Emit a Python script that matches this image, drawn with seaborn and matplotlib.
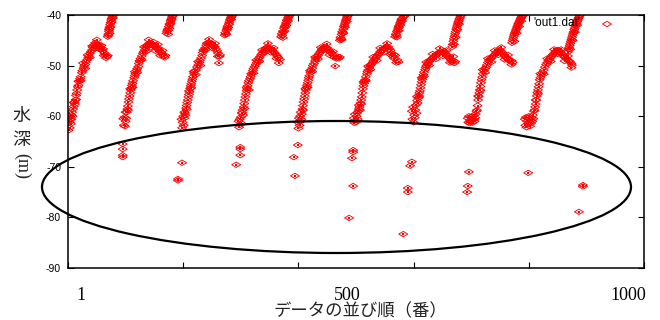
import numpy as np
import pandas as pd
import matplotlib
matplotlib.use("Agg")
import matplotlib.pyplot as plt
import seaborn as sns
from matplotlib.path import Path
from matplotlib.patches import Ellipse

# ---------------- data ----------------
x1 = [1,1,2,3,3,4,5,6,7,8,9,10,11,12,13,14,15,16,17,18,20,21,22,24,25,27,28,30,31,33,35,36,38,40,42,43,45,47,49,51,52,54,56,58,60,61,63,65,66,68,69]
y1 = [-61.0,-62.8,-60.2,-62.3,-61.2,-60.6,-61.5,-59.8,-59.2,-60.0,-58.6,-58.1,-57.2,-57.6,-56.8,-55.9,-55.5,-54.8,-54.2,-53.9,-53.0,-52.6,-52.2,-51.4,-51.0,-50.5,-50.1,-49.8,-49.3,-48.9,-48.5,-48.1,-47.6,-47.2,-46.9,-46.4,-46.0,-45.5,-45.6,-45.9,-46.3,-45.9,-46.4,-46.8,-47.1,-46.7,-47.5,-47.9,-48.5,-48.2,-48.0]
x1c = [69,70,70,71,71,72,72,73,74,75,76,77,78]
y1c = [-44.3,-43.8,-44.0,-43.2,-42.8,-42.4,-42.9,-41.9,-41.5,-41.0,-40.7,-40.4,-40.1]
x1e = [2,6,10,14,18,22,26,30,34,38,42,46,50,54,58,62]
y1e = [-59.4,-60.6,-57.3,-56.7,-53.1,-53.0,-49.5,-50.6,-47.9,-48.4,-46.1,-46.6,-44.9,-46.7,-46.0,-48.0]

x2 = [96,97,98,99,100,101,102,103,104,105,106,107,108,109,110,111,112,113,115,116,117,119,120,122,123,125,126,128,130,131,133,135,136,138,140,142,144,146,148,150,152,154,156,158,160,162,164,166,168,169]
y2 = [-60.5,-61.8,-60.2,-62.0,-61.0,-60.4,-59.2,-58.6,-58.0,-57.2,-56.6,-56.0,-55.4,-54.8,-54.4,-53.9,-53.5,-53.0,-52.4,-52.0,-51.6,-51.0,-50.6,-50.2,-49.6,-49.0,-48.6,-48.1,-47.6,-47.3,-46.9,-46.5,-46.2,-46.0,-45.7,-45.5,-45.6,-45.8,-46.1,-46.0,-46.3,-46.6,-46.5,-46.9,-47.2,-47.4,-47.8,-48.1,-48.4,-48.0]
x2c = [171,172,173,174,175,176,177,178,179,180,181,182]
y2c = [-43.6,-43.2,-42.8,-43.0,-42.3,-41.8,-41.9,-41.2,-40.9,-40.6,-40.3,-40.1]
x2e = [100,104,108,112,116,120,124,128,132,136,140,144,148,152,156,160,164]
y2e = [-59.2,-58.8,-54.6,-54.3,-51.2,-51.4,-49.1,-48.9,-46.3,-47.2,-44.9,-46.4,-45.3,-47.1,-45.8,-48.0,-47.0]

x3 = [197,198,199,200,201,202,203,204,205,206,207,208,209,210,211,212,213,214,215,216,217,219,220,222,224,226,228,229,231,233,234,236,238,240,241,243,245,247,249,251,253,255,257,259,260,262,263,264]
y3 = [-60.6,-62.3,-61.2,-60.0,-61.8,-60.4,-59.4,-59.8,-58.4,-57.9,-57.3,-56.8,-56.2,-55.7,-55.2,-54.5,-54.0,-53.6,-53.1,-52.7,-52.2,-51.6,-51.1,-50.9,-50.3,-49.9,-49.4,-49.0,-48.5,-48.0,-47.4,-47.0,-46.5,-46.0,-45.6,-45.5,-45.4,-45.6,-45.8,-46.0,-46.2,-46.3,-46.7,-47.1,-47.5,-49.5,-48.2,-47.9]
x3c = [272,273,274,275,276,277,278,279,280,281,282,283,284,285]
y3c = [-44.0,-43.5,-43.8,-43.0,-42.6,-42.2,-42.5,-41.8,-41.4,-41.0,-40.8,-40.5,-40.3,-40.1]
x3e = [202,206,210,214,218,222,226,230,235,240,245,250,255,260]
y3e = [-59.2,-58.7,-55.0,-54.4,-51.2,-51.8,-49.2,-50.0,-46.9,-46.8,-44.8,-46.5,-45.6,-48.2]

x4 = [296,297,298,299,300,301,302,303,304,305,306,307,308,309,310,311,312,313,314,316,317,319,321,322,324,326,328,330,331,333,335,337,339,341,343,345,347,349,351,353,355,357,359,361,363,365,366,368]
y4 = [-61.0,-62.2,-60.6,-61.7,-60.2,-61.4,-59.3,-58.8,-59.8,-58.2,-57.5,-56.8,-56.2,-55.6,-55.0,-54.6,-54.0,-53.4,-53.0,-52.6,-52.2,-51.6,-51.0,-50.6,-50.2,-49.8,-49.4,-49.0,-48.6,-48.3,-47.9,-47.6,-47.3,-47.0,-46.7,-46.4,-46.3,-46.6,-46.8,-46.7,-47.0,-47.3,-47.5,-47.8,-48.1,-48.4,-49.5,-48.8]
x4c = [370,371,372,373,374,375,376,377,378,379,380,381,382,383,384,385]
y4c = [-44.3,-43.7,-44.0,-43.2,-43.4,-42.6,-42.2,-42.4,-41.8,-41.5,-41.1,-40.9,-40.6,-40.4,-40.2,-40.0]
x4e = [302,306,310,314,318,322,327,332,337,342,347,352,357,362]
y4e = [-59.4,-58.5,-54.3,-54.8,-51.6,-51.5,-48.9,-49.2,-46.9,-47.4,-45.6,-47.4,-46.5,-48.6]

x5 = [399,400,401,402,403,404,405,406,407,408,409,410,411,412,413,414,415,416,417,418,419,421,422,424,425,427,429,430,432,434,436,438,440,441,443,445,447,449,450,452,454,456,458,460,462,464,466,468,470,472]
y5 = [-61.2,-62.4,-60.4,-61.8,-60.0,-61.0,-60.6,-59.6,-58.6,-57.9,-57.2,-56.6,-56.0,-55.4,-54.8,-54.3,-53.9,-53.4,-52.9,-52.4,-52.0,-51.4,-50.9,-50.5,-50.0,-49.6,-49.1,-48.7,-48.3,-48.0,-47.6,-47.3,-47.0,-46.8,-46.5,-46.3,-46.4,-46.6,-46.5,-46.9,-47.2,-47.4,-47.5,-47.9,-48.4,-50.1,-48.6,-48.2,-48.6,-48.3]
x5c = [472,473,474,475,476,477,478,479,480,481,482,483,484,485,486]
y5c = [-45.0,-44.4,-44.7,-43.8,-43.3,-43.5,-42.8,-42.3,-42.0,-41.6,-41.2,-40.9,-40.6,-40.3,-40.1]
x5e = [404,408,412,416,420,424,429,434,439,444,449,454,460]
y5e = [-59.2,-58.8,-54.6,-54.3,-51.0,-51.2,-48.3,-48.7,-46.4,-46.9,-45.7,-47.9,-47.2]

x6 = [496,497,498,499,500,501,502,503,504,505,506,507,508,509,510,511,512,513,514,515,516,517,519,520,521,523,525,527,529,530,532,534,536,538,540,542,544,546,548,550,552,554,556,558,560,562,564,566,568,570,572,574]
y6 = [-60.4,-61.3,-59.6,-60.8,-61.2,-60.0,-59.4,-60.6,-59.0,-58.6,-58.2,-58.8,-57.4,-56.8,-56.2,-55.4,-54.6,-54.0,-53.5,-53.1,-52.8,-52.2,-51.6,-51.2,-50.9,-50.4,-50.0,-49.7,-49.4,-49.1,-48.8,-48.5,-48.2,-47.9,-47.6,-47.3,-47.1,-46.9,-46.6,-46.5,-46.3,-46.4,-46.3,-46.7,-47.0,-47.6,-48.2,-48.6,-48.0,-49.4,-48.9,-49.3]
x6c = [568,569,570,571,572,573,574,575,576,577,578,579,580,582,584,586]
y6c = [-44.3,-43.8,-44.0,-43.3,-43.0,-42.6,-42.2,-42.4,-41.8,-41.5,-41.2,-40.9,-40.7,-40.4,-40.2,-40.0]
x6e = [505,509,513,517,521,525,530,536,542,548,554,560,566]
y6e = [-57.8,-57.6,-53.2,-53.0,-50.1,-50.8,-48.3,-49.0,-46.5,-47.4,-45.6,-47.8,-47.8]

x7 = [597,598,599,600,601,602,603,604,605,606,607,608,609,610,611,612,613,614,615,616,617,618,620,621,622,624,625,627,629,631,633,635,637,639,641,643,645,647,649,651,653,655,657,659,661,663,665,667,669,671,672]
y7 = [-59.0,-60.6,-58.2,-61.2,-59.8,-60.3,-58.8,-57.8,-59.4,-56.9,-57.4,-56.4,-55.9,-55.4,-55.0,-54.4,-53.8,-53.2,-52.7,-52.3,-51.8,-51.3,-50.8,-50.4,-50.1,-49.8,-49.5,-49.2,-48.9,-48.7,-48.5,-48.3,-48.1,-47.9,-47.7,-47.5,-47.4,-47.2,-47.4,-47.3,-47.1,-47.5,-47.8,-48.1,-48.4,-48.6,-48.9,-49.3,-49.0,-49.5,-49.2]
x7c = [667,668,669,670,671,672,673,674,675,676,677,678,679,680,681,682]
y7c = [-46.3,-45.8,-45.2,-44.7,-44.2,-43.7,-43.3,-42.8,-42.4,-42.0,-41.6,-41.3,-41.0,-40.7,-40.4,-40.1]
x7e = [606,610,614,618,622,627,633,639,645,651,657,663,669]
y7e = [-56.1,-56.2,-52.4,-52.1,-49.3,-50.0,-47.7,-48.7,-46.6,-48.1,-47.0,-49.4,-48.2]

x8 = [694,695,696,697,698,699,700,701,702,703,704,705,706,707,708,709,710,711,712,713,714,715,716,717,718,719,720,722,724,726,727,729,731,733,735,737,739,741,743,745,747,749,750,752,754,756,758,760,762,764,766,768,770,772]
y8 = [-60.4,-61.2,-60.0,-61.4,-60.8,-61.0,-60.2,-60.9,-61.3,-60.5,-59.8,-60.6,-61.0,-60.3,-59.6,-59.0,-58.8,-57.9,-56.8,-56.1,-55.4,-54.8,-54.1,-53.4,-52.8,-52.3,-51.6,-51.0,-50.6,-50.3,-49.9,-49.4,-49.0,-48.7,-48.5,-48.2,-48.0,-47.8,-47.5,-47.3,-47.1,-47.0,-46.9,-47.2,-47.4,-47.8,-48.0,-48.3,-48.5,-48.7,-48.9,-49.2,-49.0,-49.4]
x8c = [771,772,773,774,775,776,777,778,779,780,781,782,783,784,785,786,787,788,789,790]
y8c = [-45.5,-45.0,-44.6,-44.2,-43.8,-43.5,-43.2,-42.9,-42.6,-42.3,-42.0,-41.7,-41.5,-41.2,-41.0,-40.7,-40.5,-40.3,-40.1,-40.0]
x8e = [712,716,720,724,729,735,741,747,752,758,764,770]
y8e = [-56.0,-54.9,-50.8,-51.4,-48.6,-49.3,-47.0,-47.9,-46.4,-48.8,-47.9,-49.8]

x9 = [793,794,795,796,797,798,799,800,801,802,803,804,805,806,807,808,809,810,811,812,813,814,815,816,817,818,819,820,822,824,826,828,830,832,834,836,838,840,842,844,846,848,850,852,854,856,858,860,862,864,866,868,870,872,874,875]
y9 = [-60.6,-61.8,-60.2,-62.2,-61.0,-60.4,-61.5,-60.0,-61.2,-62.0,-60.8,-61.4,-60.3,-61.0,-59.8,-60.5,-59.0,-58.8,-58.2,-57.6,-56.8,-56.0,-55.3,-54.8,-54.2,-53.6,-52.8,-52.4,-51.8,-51.4,-50.9,-50.3,-49.8,-49.4,-49.0,-48.7,-48.4,-48.1,-47.8,-47.6,-47.3,-47.1,-46.9,-47.0,-47.3,-47.6,-47.9,-48.0,-48.3,-48.5,-48.7,-48.9,-49.1,-49.3,-49.6,-49.9]
x9c = [868,869,870,871,872,873,874,875,876,877,878,879,880,881,882,883,884,885,886,887,888,889]
y9c = [-47.3,-46.8,-46.4,-46.0,-45.6,-45.2,-44.8,-44.4,-44.0,-43.6,-43.3,-42.9,-42.6,-42.2,-41.9,-41.6,-41.3,-41.0,-40.7,-40.5,-40.2,-40.0]
x9e = [812,816,820,826,832,838,844,850,856,862,868,874]
y9e = [-56.8,-55.6,-51.6,-51.7,-48.6,-49.2,-46.8,-47.7,-46.8,-49.1,-48.1,-50.4]

# second row of points along the near-vertical columns
xce = [72,74,76,78,174,176,178,180,275,277,280,283,373,376,379,382,475,478,481,484,571,574,577,580,670,673,676,679,775,779,783,787,872,876,880,884]
yce = [-43.6,-42.4,-41.4,-40.6,-43.8,-42.6,-41.6,-40.9,-43.8,-42.8,-41.8,-40.9,-44.5,-43.2,-42.1,-41.2,-44.9,-43.6,-42.4,-41.3,-44.4,-43.1,-42.0,-41.2,-45.8,-44.4,-42.9,-41.8,-45.2,-43.6,-42.3,-41.2,-46.8,-45.0,-43.4,-42.0]

# isolated deep points
xo = [95,95,95,95,198,191,191,299,299,299,292,399,392,394,495,495,493,495,488,597,594,590,590,582,696,694,693,799,894,894,887]
yo = [-65.5,-66.5,-67.7,-68.1,-69.2,-72.4,-72.7,-66.1,-66.5,-67.7,-69.6,-65.7,-68.1,-71.8,-66.7,-67.1,-68.3,-73.8,-80.1,-69.0,-69.8,-74.2,-75.0,-83.3,-71.0,-73.8,-75.0,-71.2,-73.6,-73.9,-78.9]

y_ticks = [-40, -50, -60, -70, -80, -90]
x_ticks = [0, 200, 400, 600, 800, 1000]
x_labels = ["1", "500", "1000"]
legend_label = "'out1.dat'"
ylabel_chars = ["水", "深"]
ylabel_unit = "(m)"
xlabel = "データの並び順（番）"

# ---------------- assemble ----------------
xs = (x1 + x1c + x1e + x2 + x2c + x2e + x3 + x3c + x3e + x4 + x4c + x4e + x5 + x5c + x5e
      + x6 + x6c + x6e + x7 + x7c + x7e + x8 + x8c + x8e + x9 + x9c + x9e + xce + xo)
ys = (y1 + y1c + y1e + y2 + y2c + y2e + y3 + y3c + y3e + y4 + y4c + y4e + y5 + y5c + y5e
      + y6 + y6c + y6e + y7 + y7c + y7e + y8 + y8c + y8e + y9 + y9c + y9e + yce + yo)
df = pd.DataFrame({"x": xs, "y": ys})

sns.set_theme(style="white")
plt.rcParams["font.family"] = ["Liberation Sans", "DejaVu Sans"]

fig = plt.figure(figsize=(6.6, 3.2), dpi=100)
ax = fig.add_axes([68/660, 1-268/320, 576/660, 253/320])

diamond = Path([(-0.5, 0), (0, 0.3), (0.5, 0), (0, -0.3), (-0.5, 0)],
               [Path.MOVETO, Path.LINETO, Path.LINETO, Path.LINETO, Path.CLOSEPOLY])

sns.scatterplot(data=df, x="x", y="y", ax=ax, marker=diamond, s=42,
                facecolor="none", edgecolor="#ff0000", linewidth=0.65, legend=False)
sns.scatterplot(data=df, x="x", y="y", ax=ax, marker="s", s=0.8,
                color="#ff0000", linewidth=0, legend=False)

ax.set_xlim(0, 1000)
ax.set_ylim(-90, -40)
ax.set_xticks(x_ticks)
ax.set_xticklabels([""] * len(x_ticks))
ax.set_yticks(y_ticks)
ax.set_yticklabels([str(v) for v in y_ticks], fontsize=7.5)
ax.tick_params(direction="in", length=4, width=0.8, top=True, right=True,
               bottom=True, left=True, pad=5, colors="black")
ax.set_xlabel("")
ax.set_ylabel("")
for sp in ax.spines.values():
    sp.set_visible(True)
    sp.set_color("black")
    sp.set_linewidth(1.1)

# legend (gnuplot style key)
ax.text((580-68)/576, 1-(23-15)/253, legend_label, transform=ax.transAxes,
        ha="right", va="center", fontsize=8.5, color="black", zorder=5)
ax.scatter([(607-68)/576], [1-(24-15)/253], transform=ax.transAxes, marker=diamond,
           s=42, facecolor="none", edgecolor="#ff0000", linewidth=0.65, clip_on=False)

# custom x labels (serif)
for lab, px in zip(x_labels, [81, 347, 628]):
    fig.text(px/660, 1-295/320, lab, ha="center", va="center", fontsize=13,
             family=["Liberation Serif", "DejaVu Serif"], color="black")

fig.text(360/660, 1-311/320, xlabel, ha="center", va="center", fontsize=12.5,
         family=["Noto Sans CJK JP", "DejaVu Sans"], color="#222222")

# vertical y label
for ch, py in zip(ylabel_chars, [116, 140]):
    fig.text(21/660, 1-py/320, ch, ha="center", va="center", fontsize=13,
             family=["Noto Sans CJK JP", "DejaVu Sans"], color="#222222")
fig.text(22/660, 1-166/320, ylabel_unit, ha="center", va="center", fontsize=13,
         rotation=-90, family=["Liberation Serif", "DejaVu Serif"], color="#222222")

# annotation ellipse
fig.add_artist(Ellipse((336.5/660, 1-187/320), 589/660, 132/320,
                       transform=fig.transFigure, fill=False, edgecolor="black",
                       linewidth=1.6, clip_on=False))

fig.savefig("out.png", dpi=100, facecolor="white")
